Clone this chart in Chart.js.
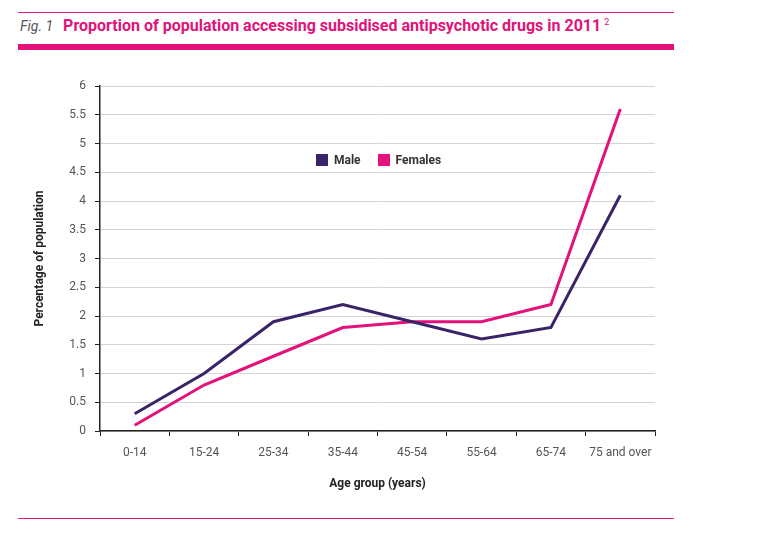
<!DOCTYPE html>
<html>
<head>
<meta charset="utf-8">
<script src="https://cdn.jsdelivr.net/npm/chart.js@4"></script>
<style>
    body { margin: 0; background: #fff; font-family: Roboto, sans-serif; }
    #wrap { position: relative; width: 775px; height: 537px; }
    .rule { position: absolute; left: 18px; width: 656px; background: #e2127a; }
    #heading { position: absolute; left: 20px; top: 16px; white-space: nowrap; }
    #heading .fig { font-style: italic; color: #555; font-size: 14px; margin-right: 10px; }
    #heading .txt { font-weight: 700; color: #e2127a; font-size: 16px; }
    #heading sup { color: #e2127a; font-size: 9px; margin-left: 3px; }
    #legend { position: absolute; left: 316px; top: 152px; font-size: 12px; font-weight: 700; color: #333; }
    #legend span { display: inline-block; vertical-align: middle; }
    #legend .box { width: 12px; height: 12px; margin-right: 6px; }
    canvas { position: absolute; left: 0; top: 0; }
</style>
</head>
<body>
<div id="wrap">
    <div class="rule" style="top:12px;height:1px;"></div>
    <div id="heading"><span class="fig">Fig. 1</span><span class="txt">Proportion of population accessing subsidised antipsychotic drugs in 2011</span><sup>2</sup></div>
    <div class="rule" style="top:44px;height:6px;"></div>
    <div class="rule" style="top:518px;height:1px;"></div>
    <canvas id="chart" width="775" height="537"></canvas>
    <div id="legend">
        <span class="box" style="background:#3a2468"></span><span style="margin-right:14px">Male</span>
        <span class="box" style="background:#e2127a"></span><span>Females</span>
    </div>
</div>
<script>
"use strict";

const ageGroups = ['0-14', '15-24', '25-34', '35-44', '45-54', '55-64', '65-74', '75 and over'];
const maleValues = [0.3, 1.0, 1.9, 2.2, 1.9, 1.6, 1.8, 4.1];
const femaleValues = [0.1, 0.8, 1.3, 1.8, 1.9, 1.9, 2.2, 5.6];

const maleColor = '#3a2468';
const femaleColor = '#e2127a';

const ctx = document.getElementById('chart').getContext('2d');
new Chart(ctx, {
    type: 'line',
    data: {
        labels: ageGroups,
        datasets: [
            {
                label: 'Male',
                data: maleValues,
                borderColor: maleColor,
                backgroundColor: maleColor,
                borderWidth: 3,
                pointRadius: 0,
                tension: 0
            },
            {
                label: 'Females',
                data: femaleValues,
                borderColor: femaleColor,
                backgroundColor: femaleColor,
                borderWidth: 3,
                pointRadius: 0,
                tension: 0
            }
        ]
    },
    options: {
        responsive: false,
        animation: false,
        layout: {
            padding: { left: 20, right: 120, top: 86, bottom: 46 }
        },
        plugins: {
            legend: { display: false },
            tooltip: { enabled: false }
        },
        scales: {
            x: {
                offset: true,
                grid: {
                    display: true,
                    offset: true,
                    drawOnChartArea: false,
                    color: '#222',
                    tickLength: 5,
                    tickColor: '#222'
                },
                border: { color: '#222', width: 1.5 },
                ticks: {
                    color: '#555',
                    padding: 10,
                    maxRotation: 0,
                    font: { family: 'Roboto', size: 12 }
                },
                title: {
                    display: true,
                    text: 'Age group (years)',
                    color: '#222',
                    padding: { top: 9, bottom: 0 },
                    font: { family: 'Roboto', size: 12, weight: 'bold' }
                },
                afterFit: (scale) => { scale.height = 60; }
            },
            y: {
                min: 0,
                max: 6,
                ticks: {
                    stepSize: 0.5,
                    color: '#555',
                    padding: 9,
                    font: { family: 'Roboto', size: 12 },
                    callback: (v) => v
                },
                grid: {
                    color: '#d4d4d4',
                    tickColor: '#222',
                    tickLength: 5,
                    lineWidth: 1
                },
                border: { color: '#222', width: 1.5 },
                title: {
                    display: true,
                    text: 'Percentage of population',
                    color: '#222',
                    padding: { top: 13, bottom: 0 },
                    font: { family: 'Roboto', size: 12, weight: 'bold' }
                },
                afterFit: (scale) => { scale.width = 80; }
            }
        }
    }
});
</script>
</body>
</html>
